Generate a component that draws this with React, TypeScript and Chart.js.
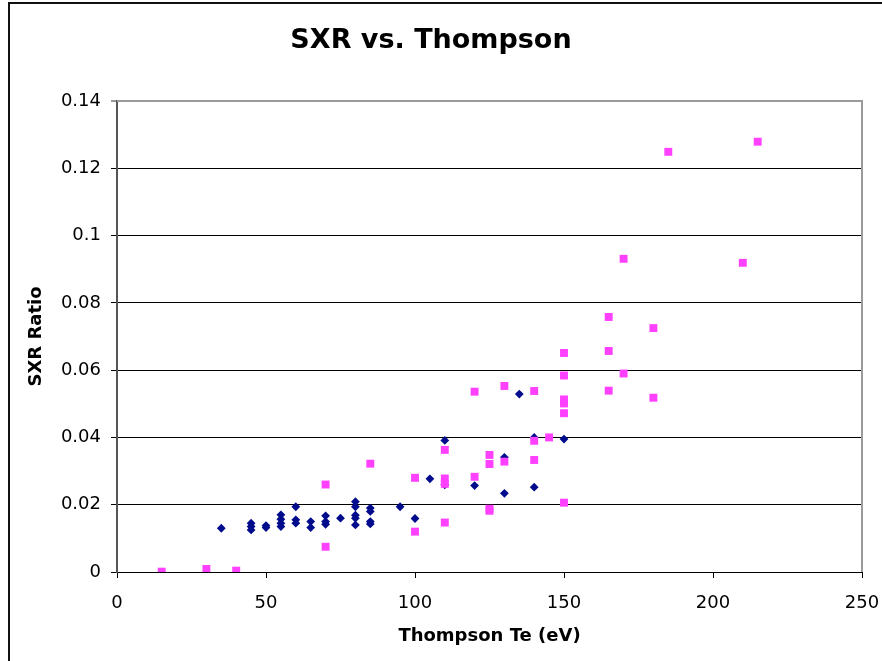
import React, { useEffect, useRef } from "react";
import { Chart, registerables } from "chart.js";

Chart.register(...registerables);

const chartTitle = "SXR vs. Thompson";
const xTitle = "Thompson Te (eV)";
const yTitle = "SXR Ratio";

// Series 1 (navy diamonds)
const diamondX = [
  35, 45, 45, 45, 50, 50, 55, 55, 55, 55, 60, 60, 60, 65, 65, 70, 70, 70, 75,
  80, 80, 80, 80, 80, 85, 85, 85, 85, 95, 100, 105, 110, 110, 120, 130, 130,
  135, 140, 140, 150,
];
const diamondY = [
  0.013, 0.0145, 0.0135, 0.0125, 0.0138, 0.0132, 0.017, 0.0157, 0.0145,
  0.0135, 0.0194, 0.0155, 0.0145, 0.015, 0.0132, 0.0167, 0.015, 0.0142, 0.016,
  0.0209, 0.0194, 0.0169, 0.016, 0.014, 0.019, 0.018, 0.015, 0.0143, 0.0194,
  0.0159, 0.0277, 0.0391, 0.0259, 0.0257, 0.0341, 0.0234, 0.0529, 0.04,
  0.0252, 0.0395,
];

// Series 2 (magenta squares)
const squareX = [
  15, 30, 40, 70, 70, 85, 100, 100, 110, 110, 110, 110, 120, 120, 125, 125,
  125, 125, 130, 130, 140, 140, 140, 145, 150, 150, 150, 150, 150, 150, 165,
  165, 165, 170, 170, 180, 180, 185, 210, 215,
];
const squareY = [
  0.0001, 0.0009, 0.0004, 0.026, 0.0075, 0.0322, 0.028, 0.012, 0.0363, 0.0278,
  0.0262, 0.0147, 0.0536, 0.0283, 0.0348, 0.0321, 0.0188, 0.0182, 0.0553,
  0.0328, 0.0538, 0.039, 0.0333, 0.04, 0.0651, 0.0584, 0.0513, 0.0501, 0.0472,
  0.0206, 0.0758, 0.0657, 0.0539, 0.0931, 0.059, 0.0725, 0.0518, 0.1249,
  0.0919, 0.1279,
];

const xTicks = [0, 50, 100, 150, 200, 250];
const yTicks = [0, 0.02, 0.04, 0.06, 0.08, 0.1, 0.12, 0.14];

const toPoints = (xs: number[], ys: number[]) =>
  xs.map((x, i) => ({ x, y: ys[i] }));

const plotBorder = {
  id: "plotBorder",
  afterDraw(chart: any) {
    const { ctx, chartArea } = chart;
    ctx.save();
    ctx.strokeStyle = "#9a9a9a";
    ctx.lineWidth = 2;
    ctx.beginPath();
    ctx.moveTo(chartArea.left, chartArea.top);
    ctx.lineTo(chartArea.right, chartArea.top);
    ctx.lineTo(chartArea.right, chartArea.bottom);
    ctx.stroke();
    ctx.restore();
  },
};

export default function App() {
  const ref = useRef<HTMLCanvasElement | null>(null);

  useEffect(() => {
    if (!ref.current) return;
    const chart = new Chart(ref.current, {
      type: "scatter",
      data: {
        datasets: [
          {
            label: "Series 2",
            data: toPoints(squareX, squareY),
            pointStyle: "rect",
            pointRadius: 5.6,
            pointHoverRadius: 5.6,
            backgroundColor: "#FF40FF",
            borderWidth: 0,
          },
          {
            label: "Series 1",
            data: toPoints(diamondX, diamondY),
            pointStyle: "rectRot",
            pointRadius: 4.4,
            pointHoverRadius: 4.4,
            backgroundColor: "#000C8C",
            borderWidth: 0,
          },
        ],
      },
      options: {
        animation: false,
        responsive: false,
        layout: { padding: { left: 0, right: 20, top: 0, bottom: 0 } },
        plugins: {
          legend: { display: false },
          tooltip: { enabled: false },
          title: {
            display: true,
            text: chartTitle,
            color: "#000",
            font: { family: "DejaVu Sans", size: 27, weight: "bold", lineHeight: 1.2 },
            padding: { top: 25, bottom: 43.6 },
          },
        },
        scales: {
          x: {
            type: "linear",
            min: 0,
            max: 250,
            afterBuildTicks: (s: any) => {
              s.ticks = xTicks.map((v) => ({ value: v }));
            },
            afterFit: (s: any) => {
              s.height = 89;
              s.paddingRight = 0;
              s.paddingLeft = 0;
            },
            ticks: {
              color: "#000",
              font: { family: "DejaVu Sans", size: 18 },
              padding: 15,
              maxRotation: 0,
              callback: (v: any) => String(v),
            },
            grid: {
              drawOnChartArea: false,
              drawTicks: true,
              tickLength: 6,
              color: "#000",
              lineWidth: 1,
            },
            border: { display: true, color: "#000", width: 1 },
            title: {
              display: true,
              text: xTitle,
              color: "#000",
              font: { family: "DejaVu Sans", size: 18, weight: "bold", lineHeight: 1.2 },
              padding: { top: 14, bottom: 14 },
            },
          },
          y: {
            type: "linear",
            min: 0,
            max: 0.14,
            afterBuildTicks: (s: any) => {
              s.ticks = yTicks.map((v) => ({ value: v }));
            },
            afterFit: (s: any) => {
              s.width = 117;
            },
            ticks: {
              color: "#000",
              font: { family: "DejaVu Sans", size: 18 },
              padding: 10,
              callback: (v: any) => String(Number(Number(v).toFixed(2))),
            },
            grid: {
              drawOnChartArea: true,
              drawTicks: true,
              tickLength: 6,
              color: (c: any) =>
                c.tick && Math.abs(c.tick.value - 0.14) < 1e-9 ? "#9a9a9a" : "#000",
              lineWidth: (c: any) =>
                c.tick && Math.abs(c.tick.value - 0.14) < 1e-9 ? 2 : 1,
            },
            border: { display: true, color: "#555", width: 2 },
            title: {
              display: true,
              text: yTitle,
              color: "#000",
              font: { family: "DejaVu Sans", size: 18, weight: "bold", lineHeight: 1.2 },
              padding: { top: 26, bottom: 0 },
            },
          },
        },
      },
      plugins: [plotBorder],
    });
    return () => chart.destroy();
  }, []);

  return (
    <div
      style={{
        position: "fixed",
        left: 0,
        top: 0,
        width: 882,
        height: 661,
        overflow: "hidden",
        background: "#fff",
      }}
    >
      <div
        style={{
          position: "absolute",
          left: 8,
          top: 2,
          width: 900,
          height: 700,
          borderLeft: "2px solid #111",
          borderTop: "2px solid #111",
          boxSizing: "border-box",
        }}
      />
      <canvas
        ref={ref}
        width={882}
        height={661}
        style={{ position: "absolute", left: 0, top: 0, width: 882, height: 661 }}
      />
    </div>
  );
}
